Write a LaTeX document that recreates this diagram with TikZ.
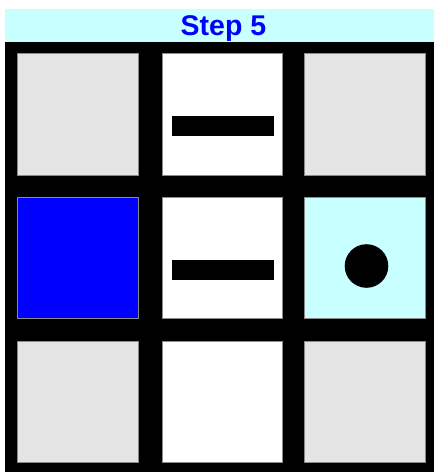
\documentclass[tikz,border=0pt]{standalone}
\usepackage{fontspec}
\setmainfont{Liberation Sans}
\definecolor{lgray}{HTML}{E4E4E4}
\definecolor{lcyan}{HTML}{C8FFFF}
\definecolor{edge}{HTML}{8A8A8A}
\begin{document}
\begin{tikzpicture}[x=1pt,y=-1pt,
  cellbox/.style={draw=edge,line width=0.8pt},
  bar/.style={fill=black},
]
\useasboundingbox (0,0) rectangle (434,472);
\fill[white] (0,0) rectangle (434,472);
% header
\fill[lcyan] (5,9) rectangle (434,42);
\node[font=\bfseries\fontsize{28.5}{28.5}\selectfont, text=blue, inner sep=0pt, anchor=base] (title) at (223.5,35) {Step 5};
% black board
\fill[black] (5,42) rectangle (434,472);
% cells
\path[cellbox, fill=lgray] (17,53) rectangle (138,175) node[midway] (c11) {};
\path[cellbox, fill=white] (162,53) rectangle (282,175) node[midway] (c12) {};
\path[cellbox, fill=lgray] (304,53) rectangle (425,175) node[midway] (c13) {};
\path[cellbox, fill=blue] (17,197) rectangle (138,318) node[midway] (c21) {};
\path[cellbox, fill=white] (162,197) rectangle (282,318) node[midway] (c22) {};
\path[cellbox, fill=lcyan] (304,197) rectangle (425,318) node[midway] (c23) {};
\path[cellbox, fill=lgray] (17,341) rectangle (138,462) node[midway] (c31) {};
\path[cellbox, fill=white] (162,341) rectangle (282,462) node[midway] (c32) {};
\path[cellbox, fill=lgray] (304,341) rectangle (425,462) node[midway] (c33) {};
% contents
\fill[bar] (172,116) rectangle (274,136);
\fill[bar] (172,260) rectangle (274,280);
\fill[black] (366.5,266) circle (21.8);
\end{tikzpicture}
\end{document}
